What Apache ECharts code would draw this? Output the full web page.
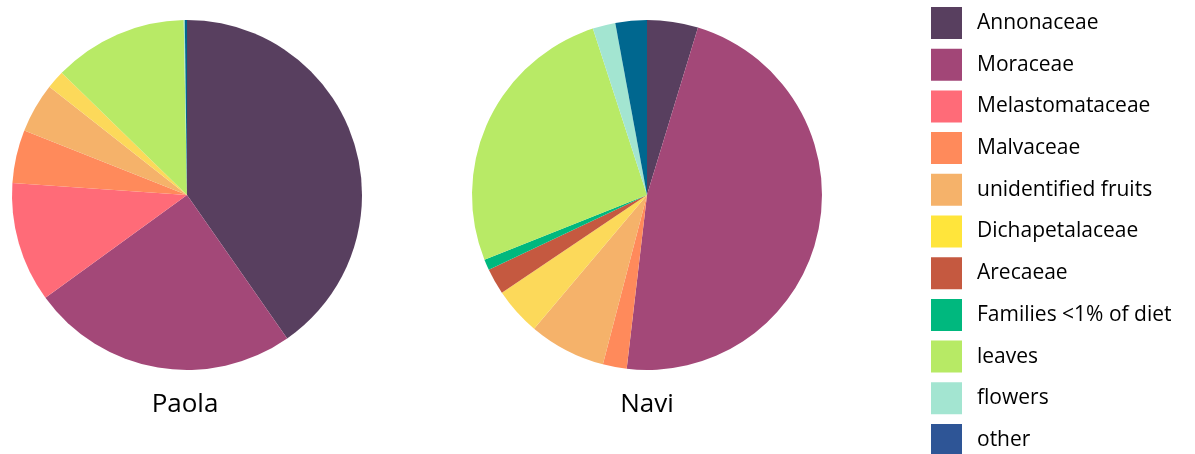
<!DOCTYPE html>
<html><head><meta charset="utf-8">
<script src="https://cdn.jsdelivr.net/npm/echarts@6/dist/echarts.min.js"></script>
<style>html,body{margin:0;padding:0;background:#fff}#c{width:1195px;height:454px}</style>
</head><body><div id="c"></div>
<script>
const categories = ["Annonaceae","Moraceae","Melastomataceae","Malvaceae","unidentified fruits","Dichapetalaceae","Arecaeae","Families <1% of diet","leaves","flowers","other"];
const paolaValues = [40.3, 24.7, 11.1, 4.9, 4.6, 1.7, 0, 0, 12.4, 0.1, 0.2];
const naviValues  = [4.7, 47.1, 0, 2.2, 7.1, 4.4, 2.4, 1.0, 26.0, 2.1, 2.9];
const sliceColors  = ["#583f5f","#a34878","#ff6b78","#ff8a5b","#f5b26a","#fcd95a","#c55940","#00b87e","#b8ea66","#a3e5d1","#00678f"];
const legendColors = ["#583f5f","#a24677","#ff6b78","#ff8a5b","#f5b26a","#ffe53b","#c55940","#00b87e","#b7ea65","#a3e5d1","#2e5596"];
const pieTitles = ["Paola","Navi"];

const font = "'Open Sans', 'Liberation Sans', sans-serif";
function mk(vals){ return categories.map((n,i)=>({name:n, value:vals[i], itemStyle:{color:sliceColors[i]}})); }
const chart = echarts.init(document.getElementById('c'), null, {renderer:'canvas'});
chart.setOption({
  animation:false,
  title: [
    {text: pieTitles[0], left: 185, top: 392, padding:0, textAlign:'center', textStyle:{fontFamily:font, fontSize:26, fontWeight:'normal', color:'#000'}},
    {text: pieTitles[1], left: 647, top: 392, padding:0, textAlign:'center', textStyle:{fontFamily:font, fontSize:26, fontWeight:'normal', color:'#000'}}
  ],
  legend: {
    orient:'vertical', left:931, top:7, height:450, padding:0, itemWidth:31, itemHeight:32, itemGap:9.7, icon:'rect',
    textStyle:{fontFamily:font, fontSize:21, color:'#000', padding:[0,0,0,10]},
    data: categories.map((n,i)=>({name:n, itemStyle:{color:legendColors[i]}})),
    selectedMode:false
  },
  series: [
    {type:'pie', center:[187,195], radius:[0,175], startAngle:90, clockwise:true, label:{show:false}, labelLine:{show:false},
     itemStyle:{borderWidth:0}, emphasis:{disabled:true}, data: mk(paolaValues)},
    {type:'pie', center:[647,195], radius:[0,175], startAngle:90, clockwise:true, label:{show:false}, labelLine:{show:false},
     itemStyle:{borderWidth:0}, emphasis:{disabled:true}, data: mk(naviValues)}
  ]
});
</script></body></html>
